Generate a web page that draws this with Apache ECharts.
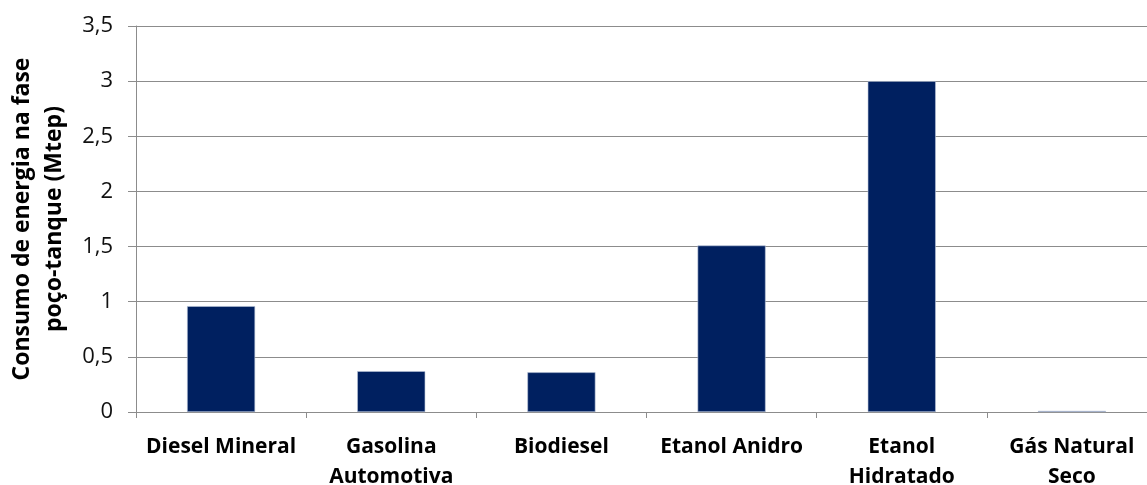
<!DOCTYPE html>
<html>
<head>
<meta charset="utf-8">
<script src="https://cdn.jsdelivr.net/npm/echarts@6/dist/echarts.min.js"></script>
<style>
  html, body { margin: 0; padding: 0; background: #fff; }
  #chart { width: 1147px; height: 485px; }
</style>
</head>
<body>
<div id="chart"></div>
<script>
// Energy consumption in the well-to-tank phase, by fuel (Mtep)
const categories = [
  'Diesel Mineral',
  'Gasolina\nAutomotiva',
  'Biodiesel',
  'Etanol Anidro',
  'Etanol\nHidratado',
  'Gás Natural\nSeco'
];
const consumo = [0.96, 0.37, 0.36, 1.51, 3.0, 0.01];
const yTitle = 'Consumo de energia na fase\npoço-tanque (Mtep)';

const chart = echarts.init(document.getElementById('chart'), null, { renderer: 'canvas' });
const fontFamily = '"Open Sans", Lato, sans-serif';

chart.setOption({
  animation: false,
  grid: { left: 136, right: -10, top: 26, bottom: 73, outerBoundsMode: 'none', containLabel: false },
  xAxis: {
    type: 'category',
    data: categories,
    axisLine: { lineStyle: { color: '#8c8c8c', width: 1 } },
    axisTick: { show: true, alignWithLabel: false, length: 6, lineStyle: { color: '#8c8c8c' } },
    axisLabel: {
      interval: 0,
      margin: 20,
      color: '#000',
      fontFamily: fontFamily,
      fontWeight: 'bold',
      fontSize: 21,
      lineHeight: 30
    }
  },
  yAxis: {
    type: 'value',
    min: 0,
    max: 3.5,
    interval: 0.5,
    name: yTitle,
    nameLocation: 'middle',
    nameGap: 66,
    nameRotate: 90,
    nameTextStyle: {
      color: '#000',
      fontFamily: fontFamily,
      fontWeight: 'bold',
      fontSize: 23,
      lineHeight: 32,
      align: 'center'
    },
    axisLine: { show: true, lineStyle: { color: '#8c8c8c', width: 1 } },
    axisTick: { show: true, length: 8, lineStyle: { color: '#8c8c8c' } },
    splitLine: { show: true, lineStyle: { color: '#8c8c8c', width: 1 } },
    axisLabel: {
      margin: 23,
      color: '#111',
      fontFamily: fontFamily,
      fontSize: 22,
      formatter: v => String(v).replace('.', ',')
    }
  },
  series: [{
    type: 'bar',
    data: consumo,
    barWidth: '40%',
    itemStyle: { color: '#002060', borderColor: '#b8c4d8', borderWidth: 0.6 }
  }]
});
</script>
</body>
</html>
